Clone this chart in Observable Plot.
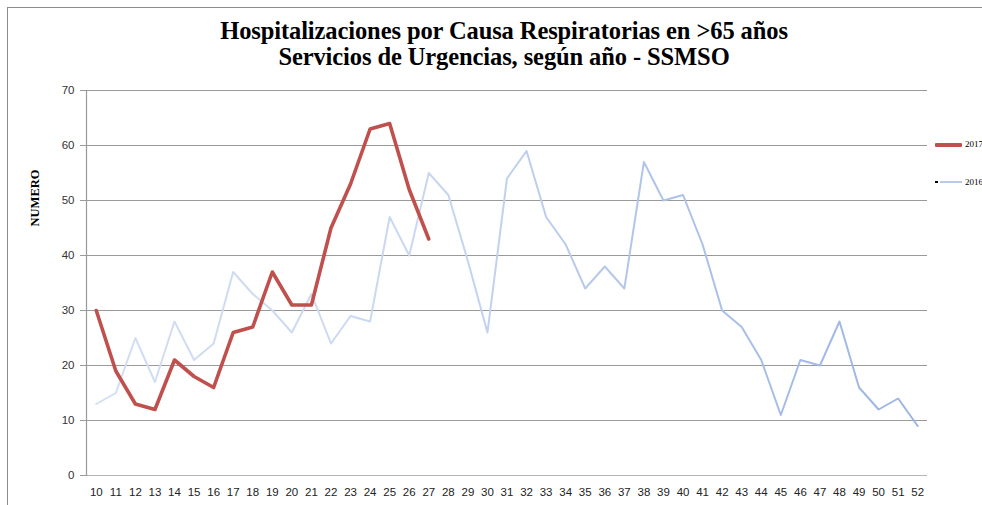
<!DOCTYPE html>
<html>
<head>
<meta charset="utf-8">
<script src="https://cdn.jsdelivr.net/npm/d3@7"></script>
<script src="https://cdn.jsdelivr.net/npm/@observablehq/plot@0.6"></script>
<style>
  html, body { margin: 0; padding: 0; background: #fff; overflow: hidden; }
  #wrap { position: relative; width: 982px; height: 505px; overflow: hidden; }
  #border { position: absolute; left: 7px; top: 7px; width: 1000px; height: 600px;
            border-left: 1px solid #8c8c8c; border-top: 1px solid #8c8c8c; }
  #title { position: absolute; left: 0; top: 18px; width: 1008px; text-align: center;
           font-family: "Liberation Serif", serif; font-weight: bold; font-size: 24.5px;
           line-height: 26px; color: #000; letter-spacing: -0.1px; }
  #ylab { position: absolute; left: 35px; top: 198px; transform: translate(-50%, -50%) rotate(-90deg);
          font-family: "Liberation Serif", serif; font-weight: bold; font-size: 12.5px; white-space: nowrap; }
  #plot { position: absolute; left: 0; top: 0; }
  .leg { position: absolute; font-family: "Liberation Serif", serif; font-size: 9px; white-space: nowrap; }
  .sw { position: absolute; }
</style>
</head>
<body>
<div id="wrap">
  <div id="plot"></div>
  <div id="border"></div>
  <div id="title">Hospitalizaciones por Causa Respiratorias en &gt;65 años<br>Servicios de Urgencias, según año - SSMSO</div>
  <div id="ylab">NUMERO</div>
  <div class="sw" style="left:935px; top:143px; width:27px; height:4px; background:#c0504d; border-radius:1px;"></div>
  <div class="leg" style="left:965px; top:139px;">2017</div>
  <div class="sw" style="left:935px; top:181px; width:3px; height:2px; background:#000;"></div>
  <div class="sw" style="left:940px; top:181px; width:22px; height:2px; background:#b9cbeb;"></div>
  <div class="leg" style="left:965px; top:177px;">2016</div>
</div>
<script>
const weeks = d3.range(10, 53);
const weeks2017 = d3.range(10, 28);
const values2017 = [30, 19, 13, 12, 21, 18, 16, 26, 27, 37, 31, 31, 45, 53, 63, 64, 52, 43];
const values2016 = [13, 15, 25, 17, 28, 21, 24, 37, 33, 30, 26, 33, 24, 29, 28, 47, 40, 55, 51, 39,
                    26, 54, 59, 47, 42, 34, 38, 34, 57, 50, 51, 42, 30, 27, 21, 11, 21, 20, 28, 16,
                    12, 14, 9];
const yTicks = [0, 10, 20, 30, 40, 50, 60, 70];
const gridTicks = [10, 20, 30, 40, 50, 60, 70];

const data2017 = weeks2017.map((w, i) => ({week: w, value: values2017[i]}));
const data2016 = weeks.map((w, i) => ({week: w, value: values2016[i]}));

const chart = Plot.plot({
  width: 982,
  height: 505,
  marginTop: 90,
  marginBottom: 30,
  marginLeft: 86,
  marginRight: 55,
  style: {fontFamily: "Liberation Sans, sans-serif", fontSize: "11.5px", color: "#333", background: "transparent"},
  x: {type: "linear", domain: [9.5, 52.5], label: null},
  y: {domain: [0, 70], label: null},
  marks: [
    Plot.ruleY(gridTicks, {stroke: "#9a9a9a", strokeWidth: 1.2}),
    Plot.ruleY([0], {stroke: "#b5b5b5", strokeWidth: 1.2}),
    Plot.frame({anchor: "left", stroke: "#9a9a9a", strokeWidth: 1.2}),
    Plot.axisY({ticks: yTicks, tickSize: 6, tickPadding: 6, stroke: "#9a9a9a", fill: "#333", label: null}),
    Plot.axisX({ticks: weeks, tickFormat: d => String(d), tickSize: 0, tickPadding: 12, fill: "#222", label: null}),
    Plot.line(data2016, {x: "week", y: "value", stroke: "#b9cbeb", strokeWidth: 2}),
    Plot.line(data2017, {x: "week", y: "value", stroke: "#c0504d", strokeWidth: 3.6})
  ]
});
document.getElementById("plot").appendChild(chart);

// gradient for the 2016 line (lighter on the left, stronger on the right)
const svgNS = "http://www.w3.org/2000/svg";
const defs = document.createElementNS(svgNS, "defs");
const grad = document.createElementNS(svgNS, "linearGradient");
grad.setAttribute("id", "blueGrad");
grad.setAttribute("x1", "0"); grad.setAttribute("x2", "1");
grad.setAttribute("y1", "0"); grad.setAttribute("y2", "0");
[["0", "#d3def1"], ["0.4", "#c9d7f0"], ["0.7", "#aec3e9"], ["1", "#9db5e3"]].forEach(([o, c]) => {
  const s = document.createElementNS(svgNS, "stop");
  s.setAttribute("offset", o); s.setAttribute("stop-color", c);
  grad.appendChild(s);
});
defs.appendChild(grad);
chart.insertBefore(defs, chart.firstChild);
const lines = chart.querySelectorAll('g[aria-label="line"]');
if (lines.length) {
  lines[0].setAttribute("stroke", "url(#blueGrad)");
  lines[0].querySelectorAll("path").forEach(p => p.setAttribute("stroke", "url(#blueGrad)"));
}
</script>
</body>
</html>
